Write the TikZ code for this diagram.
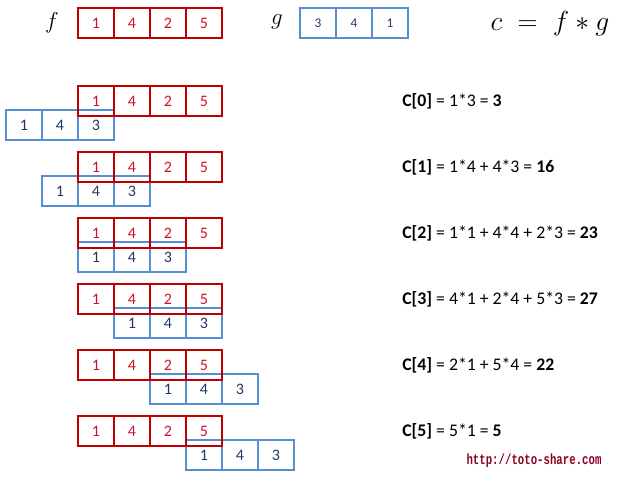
\documentclass[tikz,border=0pt]{standalone}
\usepackage{fontspec}
\setmainfont{Carlito}
\newfontfamily\urlfont[FakeStretch=0.73]{Liberation Mono}
\usetikzlibrary{positioning}
\definecolor{fred}{HTML}{C00000}
\definecolor{ftext}{HTML}{D0102A}
\definecolor{gblue}{HTML}{558ED5}
\definecolor{gtext}{HTML}{1F3864}
\definecolor{urlred}{HTML}{8B0020}
\tikzstyle{fcell} = [rectangle, draw=fred, text=ftext, line width=1.5pt,
                     minimum width=27pt, minimum height=22.5pt, inner sep=0pt,
                     font=\fontsize{12}{14}\selectfont]
\tikzstyle{gcell} = [rectangle, draw=gblue, text=gtext, line width=1.5pt,
                     minimum width=27pt, minimum height=22.5pt, inner sep=0pt,
                     font=\fontsize{12}{14}\selectfont]
\tikzstyle{sumnode} = [anchor=west, inner sep=0pt, font=\fontsize{13.3}{15}\selectfont]
\tikzstyle{namenode} = [font=\fontsize{17}{19}\selectfont]
\newcommand{\drawConvRow}[2]
{
  \foreach \v [count=\j from 0] in {1,4,3}
    \node [gcell] (b#1c\j) at ({24+36*(#1+\j)}, {125+66*#1}) {\v};
  \foreach \v [count=\i from 0] in {1,4,2,5}
    \node [fcell] (r#1c\i) at ({96+36*\i}, {101+66*#1}) {\v};
  \node [sumnode] (s#1) at (402, {101+66*#1}) {#2};
}

\begin{document}
\begin{tikzpicture}[x=0.75pt, y=-0.75pt]
\useasboundingbox (0,0) rectangle (631,481);

\node [namenode] (flabel) at (52,23) {$f$};
\foreach \v [count=\i from 0] in {1,4,2,5}
  \node [fcell] (f\i) at ({96+36*\i}, 23) {\v};

\node [namenode] (glabel) at (277,22) {$g$};
\foreach \v [count=\j from 0] in {3,4,1}
  \node [gcell, font=\fontsize{10}{12}\selectfont] (g\j) at ({318+36*\j}, 23) {\v};

\node [font=\fontsize{20}{22}\selectfont] (conv) at (550,24) {$c \;=\; f \ast g$};

\drawConvRow{0}{\textbf{C[0]} = 1*3 = \textbf{3}}
\drawConvRow{1}{\textbf{C[1]} = 1*4 + 4*3 = \textbf{16}}
\drawConvRow{2}{\textbf{C[2]} = 1*1 + 4*4 + 2*3 = \textbf{23}}
\drawConvRow{3}{\textbf{C[3]} = 4*1 + 2*4 + 5*3 = \textbf{27}}
\drawConvRow{4}{\textbf{C[4]} = 2*1 + 5*4 = \textbf{22}}
\drawConvRow{5}{\textbf{C[5]} = 5*1 = \textbf{5}}

\node [text=urlred, font=\urlfont\bfseries\fontsize{11}{13}\selectfont] (url) at (534,461) {http://toto-share.com};

\end{tikzpicture}
\end{document}
